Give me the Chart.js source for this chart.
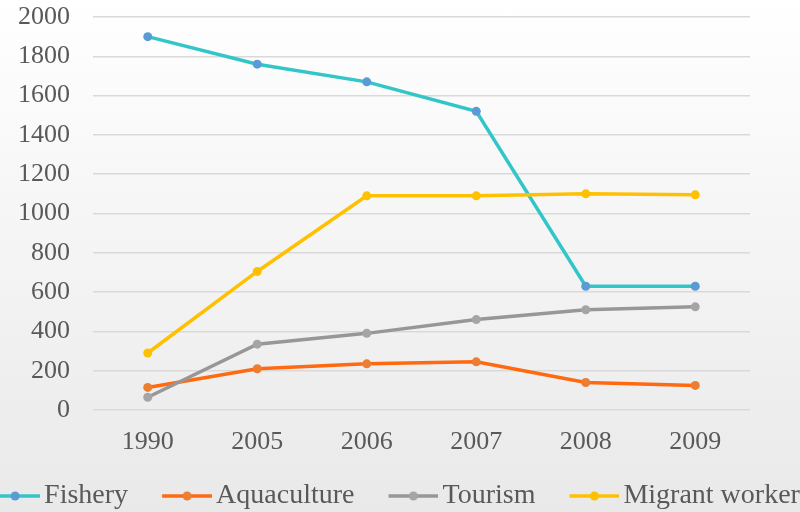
<!DOCTYPE html>
<html>
<head>
<meta charset="utf-8">
<script src="https://cdn.jsdelivr.net/npm/chart.js@4"></script>
<style>
    html, body {
        margin: 0;
        width: 800px;
        height: 512px;
        overflow: hidden;
        background: linear-gradient(#ffffff, #e9e9e9);
    }
    #wrap {
        position: absolute;
        left: -78px;
        top: 0;
        width: 920px;
        height: 512px;
    }
</style>
</head>
<body>
<div id="wrap"><canvas id="lineChart"></canvas></div>
<script>
const years = ["1990", "2005", "2006", "2007", "2008", "2009"];
const fishery = [1900, 1760, 1670, 1520, 630, 630];
const aquaculture = [115, 210, 235, 245, 140, 125];
const tourism = [65, 335, 390, 460, 510, 525];
const migrantWorker = [290, 705, 1090, 1090, 1100, 1095];
const yTicks = [0, 200, 400, 600, 800, 1000, 1200, 1400, 1600, 1800, 2000];

// line-with-dot image for the legend; the line sits in the right part
// so it ends just before the label text
function legendMark(lineColor, dotColor) {
    const c = document.createElement("canvas");
    c.width = 86;
    c.height = 12;
    const g = c.getContext("2d");
    g.strokeStyle = lineColor;
    g.lineWidth = 3.5;
    g.beginPath();
    g.moveTo(36, 6);
    g.lineTo(86, 6);
    g.stroke();
    g.fillStyle = dotColor;
    g.beginPath();
    g.arc(61, 6, 4.5, 0, Math.PI * 2);
    g.fill();
    return c;
}

function series(label, data, lineColor, dotColor, order) {
    return {
        label: label,
        data: data,
        borderColor: lineColor,
        backgroundColor: dotColor,
        pointBackgroundColor: dotColor,
        pointBorderColor: dotColor,
        pointRadius: 4.5,
        pointBorderWidth: 0,
        pointStyle: "circle",
        borderWidth: 3.5,
        tension: 0,
        order: order
    };
}

const ctx = document.getElementById("lineChart").getContext("2d");

new Chart(ctx, {
    type: "line",
    data: {
        labels: years,
        datasets: [
            series("Fishery", fishery, "#33C6C8", "#5B9BD5", 4),
            series("Aquaculture", aquaculture, "#FF6A10", "#ED7D31", 3),
            series("Tourism", tourism, "#979797", "#A5A5A5", 2),
            series("Migrant worker", migrantWorker, "#FFC000", "#FFC000", 1)
        ]
    },
    options: {
        responsive: true,
        maintainAspectRatio: false,
        animation: false,
        layout: {
            padding: { top: 17, left: 0, right: 0, bottom: 0 }
        },
        plugins: {
            tooltip: { enabled: false },
            legend: {
                position: "bottom",
                maxHeight: 38,
                labels: {
                    usePointStyle: true,
                    pointStyleWidth: 66,
                    padding: 8,
                    color: "#595959",
                    font: { family: "'Liberation Serif', serif", size: 28 },
                    sort: (a, b) => a.datasetIndex - b.datasetIndex,
                    generateLabels: (chart) => {
                        const items = Chart.defaults.plugins.legend.labels.generateLabels(chart);
                        items.forEach((item) => {
                            const ds = chart.data.datasets[item.datasetIndex];
                            item.pointStyle = legendMark(ds.borderColor, ds.pointBackgroundColor);
                        });
                        return items;
                    }
                }
            }
        },
        scales: {
            x: {
                offset: true,
                border: { display: false },
                grid: { display: false, drawTicks: false },
                ticks: {
                    padding: 0,
                    color: "#595959",
                    font: { family: "'Liberation Serif', serif", size: 26, lineHeight: "64px" }
                }
            },
            y: {
                min: 0,
                max: 2000,
                afterBuildTicks: (scale) => {
                    scale.ticks = yTicks.map((v) => ({ value: v }));
                },
                afterFit: (scale) => {
                    scale.width = 171;
                },
                border: { display: false },
                grid: {
                    color: "#d9d9d9",
                    lineWidth: 1.5,
                    drawTicks: true,
                    tickLength: 23,
                    tickColor: "transparent"
                },
                ticks: {
                    padding: 0,
                    color: "#595959",
                    font: { family: "'Liberation Serif', serif", size: 26 },
                    callback: (v) => String(v)
                }
            },
            yRight: {
                position: "right",
                display: true,
                border: { display: false },
                grid: { display: false, drawTicks: false },
                ticks: { display: false },
                afterFit: (scale) => {
                    scale.width = 92;
                }
            }
        }
    }
});
</script>
</body>
</html>
